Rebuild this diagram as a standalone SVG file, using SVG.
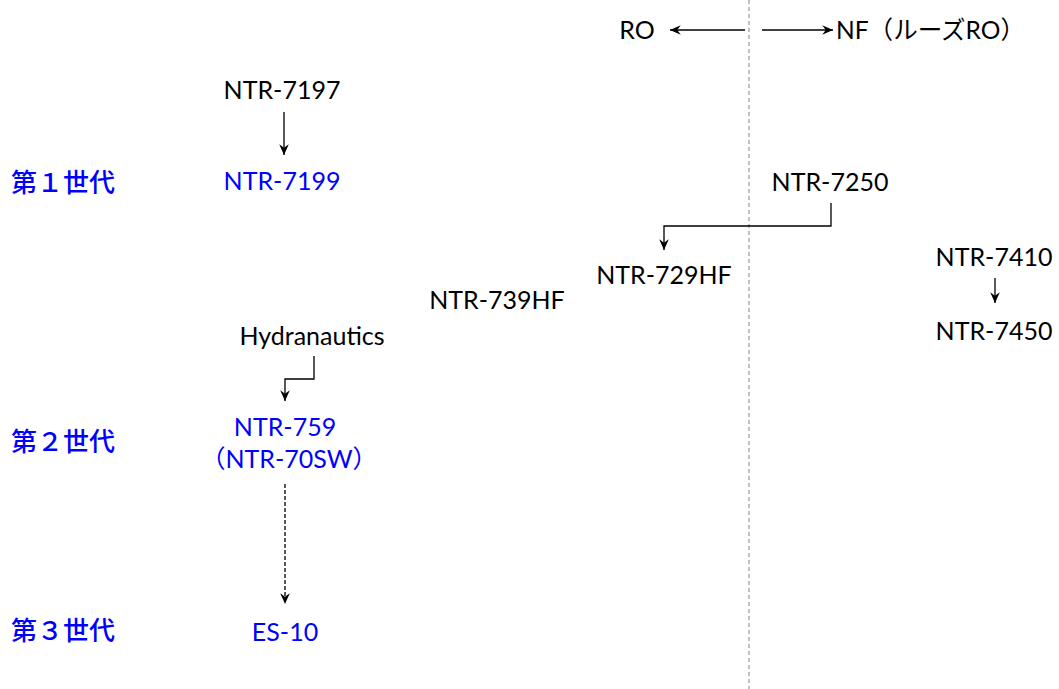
<svg xmlns="http://www.w3.org/2000/svg" width="1059" height="689" viewBox="0 0 1059 689">
<style>
.t{font-family:Lato,"Noto Sans CJK JP",sans-serif;font-size:25px;fill:#000;text-anchor:middle}
.b{fill:#0000ff}
.g{font-family:"Noto Sans CJK JP",sans-serif;font-size:26px;fill:#0000ff;font-weight:500}
.c{fill:none;stroke:#000;stroke-width:1.3}
.d{stroke-dasharray:4 2}
</style>
<defs>
<marker id="ah" viewBox="0 0 10 10" refX="9" refY="5" markerWidth="12" markerHeight="12" markerUnits="userSpaceOnUse" orient="auto">
<path d="M0,1 L9,5 L0,9 L3,5 Z" fill="#000"/>
</marker>
</defs>
<rect width="1059" height="689" fill="#fff"/>
<line x1="749" y1="0" x2="749" y2="689" stroke="#999" stroke-width="1.2" stroke-dasharray="4 3"/>
<g id="connectors">
<line class="c" x1="745" y1="30" x2="670" y2="30" marker-end="url(#ah)"/>
<line class="c" x1="762" y1="30" x2="833" y2="30" marker-end="url(#ah)"/>
<line class="c" x1="284" y1="112" x2="284" y2="155" marker-end="url(#ah)"/>
<polyline class="c" points="831,203 831,226 664,226 664,250" marker-end="url(#ah)"/>
<line class="c" x1="995" y1="278" x2="995" y2="303" marker-end="url(#ah)"/>
<polyline class="c" points="314,356 314,379 285,379 285,401" marker-end="url(#ah)"/>
<line class="c d" x1="285" y1="484" x2="285" y2="604" marker-end="url(#ah)"/>
</g>
<g id="ro"><text class="t" x="637" y="39">RO</text></g>
<g id="nf"><text class="t" x="836" y="39" style="text-anchor:start" textLength="189" lengthAdjust="spacingAndGlyphs">NF（ルーズRO）</text></g>
<g id="gen1"><text class="g" x="11" y="192">第１世代</text></g>
<g id="gen2"><text class="g" x="11" y="451">第２世代</text></g>
<g id="gen3"><text class="g" x="11" y="640">第３世代</text></g>
<g id="ntr7197"><text class="t" x="282" y="99">NTR-7197</text></g>
<g id="ntr7199"><text class="t b" x="282" y="190">NTR-7199</text></g>
<g id="ntr7250"><text class="t" x="830" y="191">NTR-7250</text></g>
<g id="ntr729hf"><text class="t" x="664" y="284">NTR-729HF</text></g>
<g id="ntr739hf"><text class="t" x="497" y="309">NTR-739HF</text></g>
<g id="ntr7410"><text class="t" x="994" y="266">NTR-7410</text></g>
<g id="ntr7450"><text class="t" x="994" y="340">NTR-7450</text></g>
<g id="hydranautics"><text class="t" x="312" y="345">Hydranautics</text></g>
<g id="ntr759"><text class="t b" x="285" y="436">NTR-759</text><text class="t b" x="289" y="468">（NTR-70SW）</text></g>
<g id="es10"><text class="t b" x="285" y="641">ES-10</text></g>
</svg>
